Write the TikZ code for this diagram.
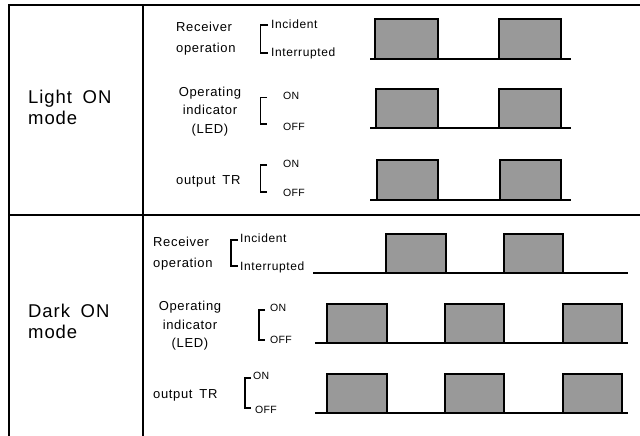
\documentclass[tikz,border=0pt]{standalone}
\usepackage{fontspec}
\setmainfont{Liberation Sans}
\newfontfamily\spfont{Liberation Sans}[LetterSpace=5]
\newfontfamily\onfont{Liberation Sans}[LetterSpace=3]
\begin{document}
\begin{tikzpicture}[x=1pt,y=-1pt,
  frame/.style={line width=1.4pt},
  base/.style={line width=1.1pt},
  pulsebox/.style={fill=black!40, draw=black, line width=1.6pt},
  brk/.style={line width=1.4pt},
  big/.style={font=\spfont\fontsize{18.5}{21}\selectfont, anchor=west, inner sep=0pt, align=left},
  lbl/.style={font=\spfont\fontsize{13}{21}\selectfont, inner sep=0pt},
  lblc/.style={font=\spfont\fontsize{13}{18.5}\selectfont, inner sep=0pt, align=center},
  sm/.style={font=\spfont\fontsize{12}{13}\selectfont, anchor=west, inner sep=0pt},
  onoff/.style={font=\onfont\fontsize{10.5}{12}\selectfont, anchor=west, inner sep=0pt}]
\useasboundingbox (0,0) rectangle (640,436);
% frame
\draw[frame] (640,5) -- (9,5) -- (9,436);
\draw[frame] (143,5) -- (143,436);
\draw[frame] (9,215) -- (640,215);

% ---------------- Light ON mode
\node[big] (lmode) at (28,107.5) {Light\hspace{0.25em} ON\\mode};
% receiver
\node[lbl, align=left, anchor=west] (lrx) at (176,38.5) {Receiver\\operation};
\draw[brk] (268,25) -- (260.7,25) -- (260.7,53) -- (268,53);
\node[sm] (linc) at (271,24.5) {Incident};
\node[sm] (lint) at (271,53) {Interrupted};
\draw[base] (370,59) -- (571,59);
\draw[pulsebox] (375,59) rectangle (438,19);
\draw[pulsebox] (499,59) rectangle (561,19);
% LED
\node[lblc] (lled) at (210,111.5) {Operating\\indicator\\(LED)};
\draw[brk] (267,97.7) -- (260.7,97.7) -- (260.7,124) -- (267,124);
\node[onoff] (lon1) at (283,96) {ON};
\node[onoff] (loff1) at (283,127) {OFF};
\draw[base] (370,128) -- (571,128);
\draw[pulsebox] (376,128) rectangle (438,89);
\draw[pulsebox] (499,128) rectangle (561,89);
% output TR
\node[lbl, anchor=west] (ltr) at (176,181) {output\hspace{0.2em} TR};
\draw[brk] (267,165) -- (260.7,165) -- (260.7,192) -- (267,192);
\node[onoff] (lon2) at (283,163.5) {ON};
\node[onoff] (loff2) at (283,193) {OFF};
\draw[base] (370,200) -- (571,200);
\draw[pulsebox] (377,200) rectangle (438,160);
\draw[pulsebox] (500,200) rectangle (561,160);

% ---------------- Dark ON mode
\node[big] (dmode) at (28,321) {Dark\hspace{0.25em} ON\\mode};
% receiver
\node[lbl, align=left, anchor=west] (drx) at (153,254) {Receiver\\operation};
\draw[brk] (238,240) -- (231,240) -- (231,266) -- (238,266);
\node[sm] (dinc) at (240,238) {Incident};
\node[sm] (dint) at (240,267) {Interrupted};
\draw[base] (313,273) -- (628,273);
\draw[pulsebox] (386,273) rectangle (446,234);
\draw[pulsebox] (504,273) rectangle (563,234);
% LED
\node[lblc] (dled) at (190,326) {Operating\\indicator\\(LED)};
\draw[brk] (265,310) -- (259,310) -- (259,340) -- (265,340);
\node[onoff] (don1) at (270,308) {ON};
\node[onoff] (doff1) at (270,340) {OFF};
\draw[base] (315,343) -- (628,343);
\draw[pulsebox] (327,343) rectangle (387,304);
\draw[pulsebox] (445,343) rectangle (504,304);
\draw[pulsebox] (563,343) rectangle (622,304);
% output TR
\node[lbl, anchor=west] (dtr) at (153,395) {output\hspace{0.2em} TR};
\draw[brk] (251,378) -- (245,378) -- (245,408) -- (251,408);
\node[onoff] (don2) at (253,376) {ON};
\node[onoff] (doff2) at (255,410) {OFF};
\draw[base] (315,413) -- (628,413);
\draw[pulsebox] (327,413) rectangle (387,374);
\draw[pulsebox] (445,413) rectangle (504,374);
\draw[pulsebox] (563,413) rectangle (622,374);
\end{tikzpicture}
\end{document}
